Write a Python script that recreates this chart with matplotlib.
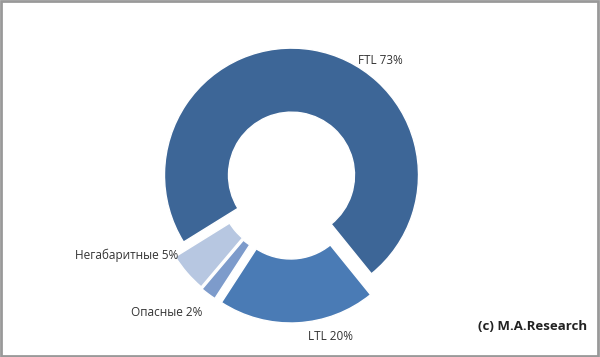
import matplotlib.pyplot as plt
from matplotlib.patches import Rectangle

# data
labels = ['FTL', 'LTL', 'Опасные', 'Негабаритные']
shares = [73, 20, 2, 5]
colors = ['#3d6697', '#4a7bb5', '#7d9bcb', '#b7c7e1']
explode = [9, 12, 10, 9]

fig = plt.figure(figsize=(6, 3.57), dpi=100)
ax = fig.add_axes([0, 0, 1, 1])

# donut, drawn clockwise starting lower-left like the excel original
ax.pie(shares, colors=colors, explode=explode, startangle=211.8,
       counterclock=False, center=(290, 173), radius=127,
       wedgeprops=dict(width=64, edgecolor='white', linewidth=1))

ax.set_xlim(0, 600)
ax.set_ylim(0, 357)
ax.set_aspect('auto')
ax.axis('off')

lab_pos = [(380, 296), (330, 21), (167, 44), (127, 102)]
for name, v, (x, y) in zip(labels, shares, lab_pos):
    ax.text(x, y, f'{name} {v}%', ha='center', va='center',
            fontsize=8.5, color='#333333', family='Open Sans')

ax.text(533, 30, '(c) M.A.Research', ha='center', va='center',
        fontsize=9.5, fontweight='bold', color='#222222', family='Open Sans')

# grey frame around the chart area
fig.patches.append(Rectangle((0.002, 0.003), 0.995, 0.993, transform=fig.transFigure,
                             fill=False, edgecolor='#999999', linewidth=2))

fig.savefig('out.png', dpi=100)
